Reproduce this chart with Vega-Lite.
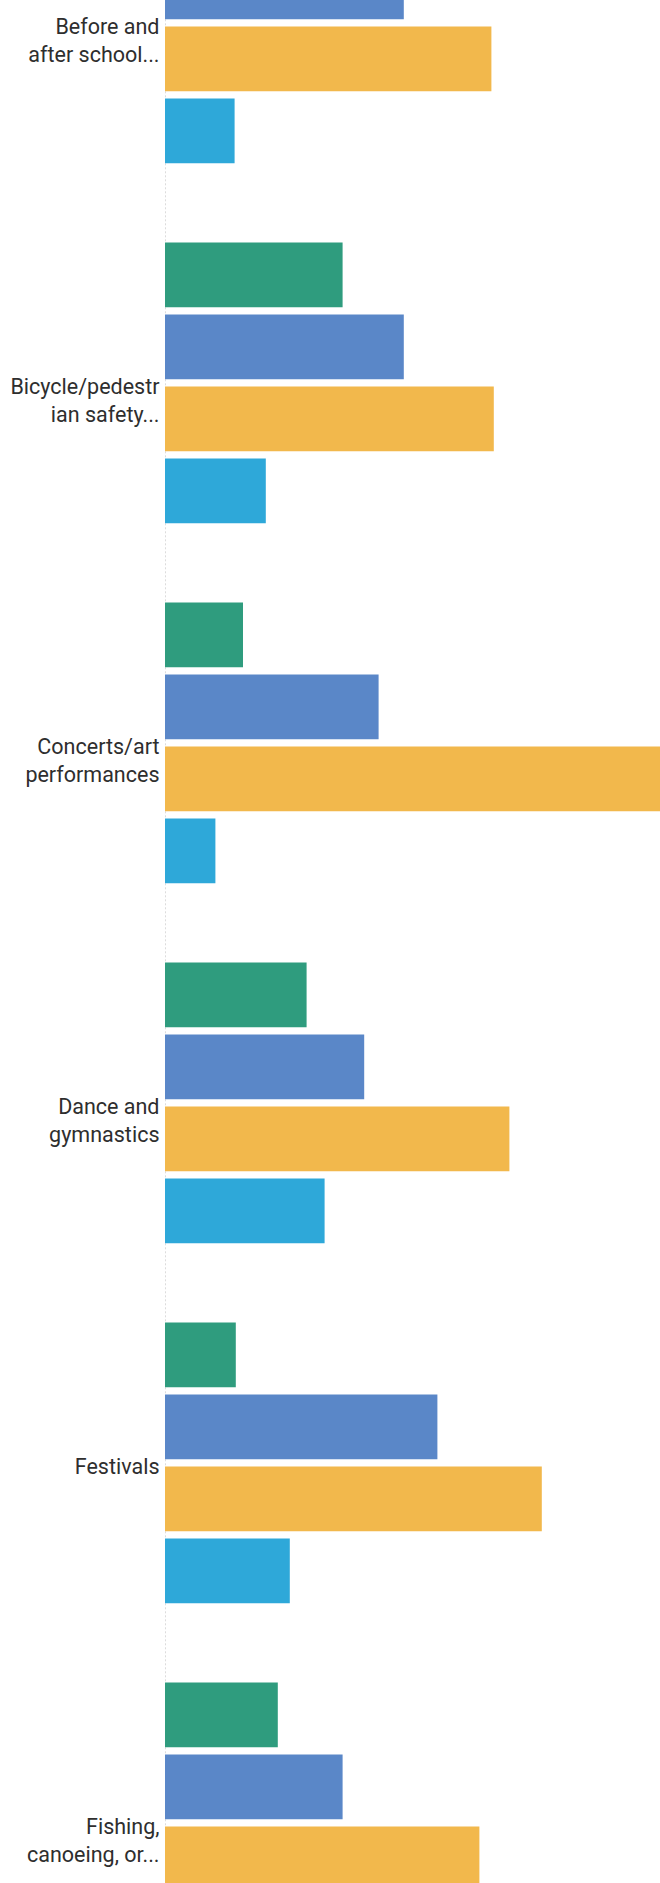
{
  "$schema": "https://vega.github.io/schema/vega-lite/v6.json",
  "width": 495,
  "height": 1883,
  "autosize": {"type": "none"},
  "padding": {"left": 165, "top": 0, "right": 0, "bottom": 0},
  "background": "white",
  "config": {"view": {"stroke": null}},
  "data": {
    "values": [
      {"category": "Before and after school...", "series": "Group 2", "value": 39.8},
      {"category": "Before and after school...", "series": "Group 3", "value": 54.4},
      {"category": "Before and after school...", "series": "Group 4", "value": 11.6},
      {"category": "Bicycle/pedestrian safety...", "series": "Group 1", "value": 29.6},
      {"category": "Bicycle/pedestrian safety...", "series": "Group 2", "value": 39.8},
      {"category": "Bicycle/pedestrian safety...", "series": "Group 3", "value": 54.8},
      {"category": "Bicycle/pedestrian safety...", "series": "Group 4", "value": 16.8},
      {"category": "Concerts/art performances", "series": "Group 1", "value": 13.0},
      {"category": "Concerts/art performances", "series": "Group 2", "value": 35.6},
      {"category": "Concerts/art performances", "series": "Group 3", "value": 90.0},
      {"category": "Concerts/art performances", "series": "Group 4", "value": 8.4},
      {"category": "Dance and gymnastics", "series": "Group 1", "value": 23.6},
      {"category": "Dance and gymnastics", "series": "Group 2", "value": 33.2},
      {"category": "Dance and gymnastics", "series": "Group 3", "value": 57.4},
      {"category": "Dance and gymnastics", "series": "Group 4", "value": 26.6},
      {"category": "Festivals", "series": "Group 1", "value": 11.8},
      {"category": "Festivals", "series": "Group 2", "value": 45.4},
      {"category": "Festivals", "series": "Group 3", "value": 62.8},
      {"category": "Festivals", "series": "Group 4", "value": 20.8},
      {"category": "Fishing, canoeing, or...", "series": "Group 1", "value": 18.8},
      {"category": "Fishing, canoeing, or...", "series": "Group 2", "value": 29.6},
      {"category": "Fishing, canoeing, or...", "series": "Group 3", "value": 52.4}
    ]
  },
  "mark": {"type": "bar", "clip": true},
  "encoding": {
    "y": {
      "field": "category",
      "type": "nominal",
      "scale": {
        "domain": ["Before and after school...", "Bicycle/pedestrian safety...", "Concerts/art performances", "Dance and gymnastics", "Festivals", "Fishing, canoeing, or..."],
        "range": [-157.2, 2002.8],
        "paddingInner": 0.2,
        "paddingOuter": 0.1
      },
      "axis": {
        "title": null,
        "ticks": false,
        "domainColor": "#dcdcdc",
        "domainDash": [2, 2],
        "domainWidth": 1,
        "labelFont": "Roboto",
        "labelFontSize": 21.5,
        "labelColor": "#2e2e2e",
        "labelPadding": 6,
        "labelOffset": 5,
        "labelLimit": 200,
        "labelLineHeight": 28.5,
        "labelExpr": "{'Before and after school...': ['Before and', 'after school...'], 'Bicycle/pedestrian safety...': ['Bicycle/pedestr', 'ian safety...'], 'Concerts/art performances': ['Concerts/art', 'performances'], 'Dance and gymnastics': ['Dance and', 'gymnastics'], 'Festivals': 'Festivals', 'Fishing, canoeing, or...': ['Fishing,', 'canoeing, or...']}[datum.value]"
      }
    },
    "yOffset": {
      "field": "series",
      "type": "nominal",
      "scale": {"domain": ["Group 1", "Group 2", "Group 3", "Group 4"], "paddingInner": 0.1, "paddingOuter": 0.05}
    },
    "x": {
      "field": "value",
      "type": "quantitative",
      "scale": {"domain": [0, 82.5], "nice": false},
      "axis": null
    },
    "color": {
      "field": "series",
      "type": "nominal",
      "scale": {"domain": ["Group 1", "Group 2", "Group 3", "Group 4"], "range": ["#2f9c7e", "#5a87c8", "#f2b84c", "#2ea8d9"]},
      "legend": null
    }
  }
}
